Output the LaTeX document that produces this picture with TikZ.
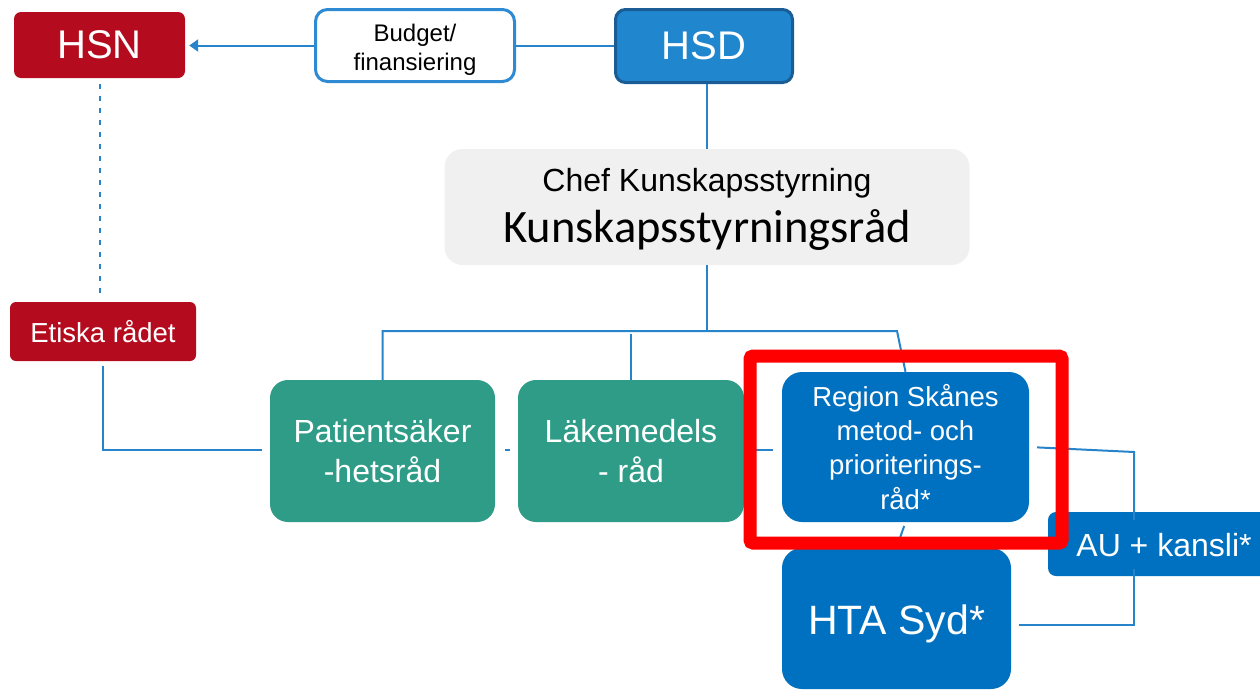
\documentclass[tikz,border=0pt]{standalone}
\usepackage{fontspec}
\setmainfont{Liberation Sans}
\newfontfamily\calibrifam{Carlito}
\usetikzlibrary{arrows.meta}

\definecolor{hsnred}{RGB}{180,12,30}
\definecolor{hsdblue}{RGB}{32,134,206}
\definecolor{hsdedge}{RGB}{26,92,150}
\definecolor{budgetedge}{RGB}{46,138,210}
\definecolor{teal}{RGB}{46,156,135}
\definecolor{regblue}{RGB}{0,112,192}
\definecolor{chefgray}{RGB}{240,240,240}
\definecolor{linkblue}{RGB}{40,132,202}
\definecolor{framered}{RGB}{255,0,0}

% move a line of text down without changing its box
\newcommand\lowertext[2]{\raisebox{-#1}[\height][\depth]{#2}}

\tikzset{
  basebox/.style={rectangle, inner sep=0pt, align=center},
  redbox/.style={basebox, fill=hsnred, text=white, rounded corners=7pt},
  tealbox/.style={basebox, fill=teal, text=white, rounded corners=18pt,
    minimum width=225pt, minimum height=142pt,
    font=\fontsize{32}{40}\selectfont},
  bluebox/.style={basebox, fill=regblue, text=white, rounded corners=20pt},
  link/.style={draw=linkblue, line width=2pt},
}

\begin{document}
\begin{tikzpicture}[x=1pt,y=-1pt]
\useasboundingbox (0,0) rectangle (1260,689);

% top row
\node[redbox, minimum width=171pt, minimum height=66pt,
      font=\fontsize{40}{48}\selectfont] (HSN) at (99.5,45) {HSN};
\node[basebox, draw=budgetedge, line width=3pt, fill=white, rounded corners=12pt,
      minimum width=199pt, minimum height=72pt,
      font=\fontsize{24}{29}\selectfont] (Budget) at (415,45.5)
      {\lowertext{4pt}{Budget/}\\\lowertext{4pt}{finansiering}};
\node[basebox, draw=hsdedge, line width=3pt, fill=hsdblue, text=white, rounded corners=10pt,
      minimum width=177pt, minimum height=73pt,
      font=\fontsize{40}{48}\selectfont] (HSD) at (704,46) {HSD};

% knowledge steering council
\node[basebox, fill=chefgray, rounded corners=18pt,
      minimum width=525pt, minimum height=116pt,
      font=\calibrifam\fontsize{46.5}{52}\selectfont] (Chef) at (707,207)
      {\lowertext{3pt}{\rmfamily\fontsize{32}{52}\selectfont Chef Kunskapsstyrning}\\
       \lowertext{2pt}{Kunskapsstyrningsråd}};

% ethics council
\node[redbox, rounded corners=6pt, minimum width=186pt, minimum height=59pt,
      font=\fontsize{27.5}{33}\selectfont] (Etiska) at (103,331.5) {Etiska rådet};

% councils
\node[tealbox] (Patient) at (382.5,451) {Patientsäker\\-hetsråd};
\node[tealbox, minimum width=226pt] (Lakemedel) at (631,451) {Läkemedels\\- råd};
\node[bluebox, minimum width=247pt, minimum height=150pt,
      font=\fontsize{27.5}{34}\selectfont] (Region) at (905.5,447)
      {Region Skånes\\metod- och\\prioriterings-\\\lowertext{1pt}{råd*}};
\node[bluebox, minimum width=229pt, minimum height=141pt,
      font=\fontsize{41}{48}\selectfont] (HTA) at (896.5,618.5) {\lowertext{5pt}{HTA Syd*}};
\node[bluebox, rounded corners=8pt, minimum width=232pt, minimum height=64pt,
      font=\fontsize{32}{38}\selectfont] (AU) at (1164,544) {\lowertext{1pt}{AU + kansli*}};

% connectors
\draw[link, -{Triangle[length=9pt,width=12pt]}, shorten >=4pt]
  (Budget.west) -- (Budget.west -| HSN.east);
\draw[link] (HSD.west) -- (HSD.west -| Budget.east);
\draw[link] (HSD.south -| Chef.north) -- (Chef.north);
\draw[link, dash pattern=on 5pt off 7pt, shorten <=6pt, shorten >=7pt]
  (HSN.south) -- (HSN.south |- Etiska.north);

\coordinate (bus) at (707,331);
\coordinate (busR) at (897,331);
\draw[link] (Chef.south) -- (bus);
\draw[link] (Patient.north) -- (Patient.north |- bus) -- (busR) -- (Region.north);
\draw[link] (Lakemedel.north) -- ([yshift=-3pt]Lakemedel.north |- bus);

\draw[link, shorten <=5pt, shorten >=8pt] (Etiska.south) |- ([yshift=1pt]Patient.west);
\draw[link, shorten <=10pt, shorten >=8pt] ([yshift=1pt]Patient.east) -- ([yshift=1pt]Lakemedel.west);
\draw[link, shorten <=2pt, shorten >=9pt] ([yshift=1pt]Lakemedel.east) -- ([yshift=1pt]Lakemedel.east -| Region.west);
\draw[link, shorten <=4pt, shorten >=3pt] (Region.south) -- (HTA.north);

\coordinate (ra) at (1134,452);
\coordinate (ah) at (1134,625);
\draw[link, shorten <=8pt] (Region.east) -- (ra) -- ([yshift=-8pt]ra |- AU.north);
\draw[link, shorten >=8pt] ([yshift=7pt]ah |- AU.south) -- (ah) -- (ah -| HTA.east);

% highlight frame
\draw[framered, line width=13pt, rounded corners=3pt] (750,356) rectangle (1062,543);
\end{tikzpicture}
\end{document}
